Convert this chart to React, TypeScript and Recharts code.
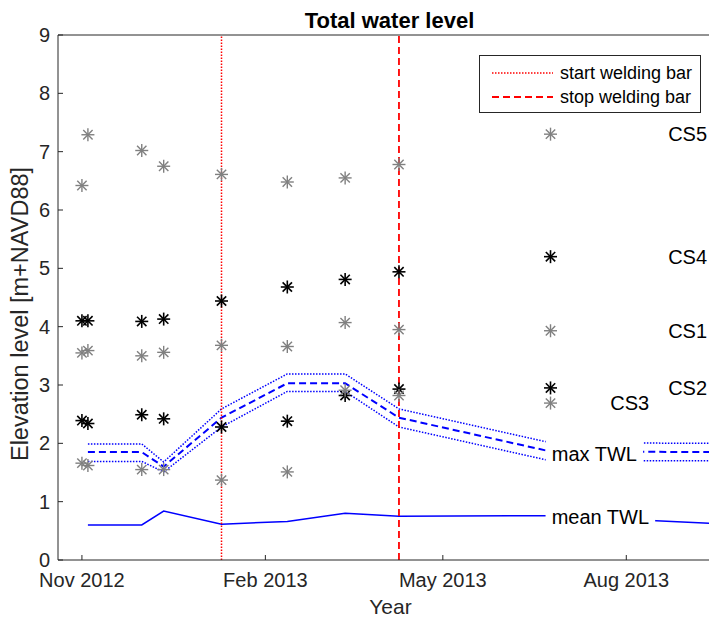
import { ComposedChart, Line, Scatter, XAxis, YAxis, ReferenceLine, ReferenceDot, Legend } from 'recharts'

const surveyDates = ['2012-11-01', '2012-11-04', '2012-12-01', '2012-12-12', '2013-01-10', '2013-02-12', '2013-03-13', '2013-04-09', '2013-06-24']
const cs5 = [6.42, 7.29, 7.02, 6.75, 6.61, 6.48, 6.55, 6.78, 7.30]
const cs4 = [4.10, 4.10, 4.09, 4.13, 4.44, 4.68, 4.81, 4.94, 5.20]
const cs1 = [3.55, 3.59, 3.50, 3.56, 3.68, 3.66, 4.07, 3.95, 3.93]
const cs2 = [2.39, 2.34, 2.49, 2.42, 2.28, 2.38, 2.82, 2.93, 2.95]
const cs3 = [1.66, 1.62, 1.55, 1.55, 1.37, 1.51, 2.91, 2.82, 2.69]

const twlDates = ['2012-11-04', '2012-12-01', '2012-12-12', '2013-01-10', '2013-02-12', '2013-03-13', '2013-04-09', '2013-06-24', '2013-09-17']
const meanTwl = [0.60, 0.60, 0.84, 0.615, 0.66, 0.80, 0.75, 0.76, 0.62]
const maxTwl = [1.85, 1.85, 1.60, 2.44, 3.03, 3.03, 2.44, 1.86, 1.85]
const maxTwlHigh = [1.99, 1.99, 1.68, 2.59, 3.19, 3.19, 2.59, 2.01, 2.00]
const maxTwlLow = [1.69, 1.69, 1.51, 2.28, 2.89, 2.89, 2.28, 1.70, 1.70]

const xRange = ['2012-10-20', '2013-09-17']
const xTicks = ['2012-11-01', '2013-02-01', '2013-05-01', '2013-08-01']
const xTickLabels = ['Nov 2012', 'Feb 2013', 'May 2013', 'Aug 2013']
const yTicks = [0, 1, 2, 3, 4, 5, 6, 7, 8, 9]

const weldStart = '2013-01-10'
const weldStop = '2013-04-09'

const csNames = ['CS5', 'CS4', 'CS1', 'CS2', 'CS3']
const csLabelDates = ['2013-08-22', '2013-08-22', '2013-08-22', '2013-08-22', '2013-07-24']
const twlLabelText = ['max TWL', 'mean TWL']
const twlLabelDates = ['2013-07-16', '2013-07-19']
const twlLabelValues = [1.82, 0.74]

const FONT = '"Liberation Sans", Arial, Helvetica, sans-serif'
const AXIS = '#262626'
const GRAY = '#808080'
const BLUE = '#0000ff'
const RED = '#ff0000'

const ts = (d: string) => Date.parse(d)
const pts = (dates: string[], vals: number[]) => dates.map((d, i) => ({ t: ts(d), v: vals[i] }))

const csSeries = [
  { name: 'CS5', vals: cs5, color: GRAY },
  { name: 'CS4', vals: cs4, color: '#000' },
  { name: 'CS1', vals: cs1, color: GRAY },
  { name: 'CS2', vals: cs2, color: '#000' },
  { name: 'CS3', vals: cs3, color: GRAY },
]

function star(color: string) {
  return (p: any) => {
    const { cx, cy } = p
    if (cx == null || cy == null) return <g />
    const r = 6.5
    const d = r * 0.72
    return (
      <g stroke={color} strokeWidth={color === GRAY ? 1.4 : 1.6}>
        <line x1={cx - r} y1={cy} x2={cx + r} y2={cy} />
        <line x1={cx} y1={cy - r} x2={cx} y2={cy + r} />
        <line x1={cx - d} y1={cy - d} x2={cx + d} y2={cy + d} />
        <line x1={cx - d} y1={cy + d} x2={cx + d} y2={cy - d} />
      </g>
    )
  }
}

function boxLabel(text: string) {
  return (props: any) => {
    const vb = props.viewBox || {}
    const cx = vb.x + (vb.width || 0) / 2
    const cy = vb.y + (vb.height || 0) / 2
    const w = text.length * 12.2 + 12
    return (
      <g>
        <rect x={cx - w / 2} y={cy - 13} width={w} height={26} fill="#fff" />
        <text x={cx} y={cy} textAnchor="middle" dominantBaseline="central" fontSize={20} fill="#000" fontFamily={FONT}>
          {text}
        </text>
      </g>
    )
  }
}

function sideLabel(text: string) {
  return (props: any) => {
    const vb = props.viewBox || {}
    return (
      <text x={vb.x} y={vb.y + (vb.height || 0) / 2} dominantBaseline="central" fontSize={20} fill="#000" fontFamily={FONT}>
        {text}
      </text>
    )
  }
}

function LegendBox() {
  const rows = [
    { label: 'start welding bar', dash: '1.5 1.5', w: 1.5 },
    { label: 'stop welding bar', dash: '7 4', w: 1.8 },
  ]
  return (
    <div style={{ width: 222, height: 58, boxSizing: 'border-box', border: `1px solid ${AXIS}`, background: '#fff', paddingTop: 5, fontFamily: FONT }}>
      {rows.map((r) => (
        <div key={r.label} style={{ display: 'flex', alignItems: 'center', height: 24 }}>
          <svg width={78} height={4} style={{ marginLeft: 12 }}>
            <line x1={0} y1={2} x2={61} y2={2} stroke={RED} strokeWidth={r.w} strokeDasharray={r.dash} />
          </svg>
          <span style={{ fontSize: 18, color: '#000', marginLeft: -10, lineHeight: '24px' }}>{r.label}</span>
        </div>
      ))}
    </div>
  )
}

export default function App() {
  const tickLabel = (v: number) => {
    const i = xTicks.findIndex((d) => ts(d) === v)
    return i >= 0 ? xTickLabels[i] : ''
  }
  return (
    <div style={{ position: 'relative', width: 709, height: 613, overflow: 'hidden', fontFamily: FONT, background: '#fff' }}>
      <ComposedChart width={720} height={613} margin={{ top: 26, right: 0, bottom: 0, left: 0 }}>
        <XAxis
          dataKey="t"
          type="number"
          domain={[ts(xRange[0]), ts(xRange[1])]}
          allowDataOverflow
          ticks={xTicks.map(ts)}
          interval={0}
          tickFormatter={tickLabel}
          height={61}
          tickSize={-5}
          tickMargin={18}
          stroke={AXIS}
          tick={{ fill: AXIS, fontSize: 20, fontFamily: FONT }}
        />
        <XAxis
          xAxisId="top"
          orientation="top"
          dataKey="t"
          type="number"
          domain={[ts(xRange[0]), ts(xRange[1])]}
          allowDataOverflow
          ticks={xTicks.map(ts)}
          interval={0}
          height={1}
          tickSize={-5}
          tick={false}
          stroke={AXIS}
        />
        <YAxis
          dataKey="v"
          type="number"
          domain={[0, 9]}
          allowDataOverflow
          ticks={yTicks}
          interval={0}
          width={50}
          tickSize={-5}
          tickMargin={13}
          stroke={AXIS}
          tick={{ fill: AXIS, fontSize: 20, fontFamily: FONT }}
        />
        <YAxis
          yAxisId="r"
          orientation="right"
          type="number"
          domain={[0, 9]}
          ticks={yTicks}
          interval={0}
          width={8}
          tickSize={-5}
          tick={false}
          stroke={AXIS}
        />
        <Legend
          layout="horizontal"
          verticalAlign="middle"
          align="center"
          wrapperStyle={{ position: 'absolute', left: 471, top: 47, width: 222, height: 58 }}
          content={() => <LegendBox />}
        />
        <Line data={pts(twlDates, maxTwlHigh)} dataKey="v" stroke={BLUE} strokeWidth={1.5} strokeDasharray="1.5 1.5" dot={false} activeDot={false} isAnimationActive={false} legendType="none" />
        <Line data={pts(twlDates, maxTwl)} dataKey="v" stroke={BLUE} strokeWidth={2} strokeDasharray="7 4" dot={false} activeDot={false} isAnimationActive={false} legendType="none" />
        <Line data={pts(twlDates, maxTwlLow)} dataKey="v" stroke={BLUE} strokeWidth={1.5} strokeDasharray="1.5 1.5" dot={false} activeDot={false} isAnimationActive={false} legendType="none" />
        <Line data={pts(twlDates, meanTwl)} dataKey="v" stroke={BLUE} strokeWidth={1.5} dot={false} activeDot={false} isAnimationActive={false} legendType="none" />
        {csSeries.map((s) => (
          <Scatter key={s.name} name={s.name} data={pts(surveyDates, s.vals)} dataKey="v" shape={star(s.color)} isAnimationActive={false} legendType="none" />
        ))}
        <ReferenceLine x={ts(weldStart)} stroke={RED} strokeWidth={1.5} strokeDasharray="1.5 1.5" />
        <ReferenceLine x={ts(weldStop)} stroke={RED} strokeWidth={1.8} strokeDasharray="7 4" />
        {csSeries.map((s, i) => (
          <ReferenceDot key={s.name} x={ts(csLabelDates[i])} y={s.vals[s.vals.length - 1]} r={0} fill="none" stroke="none" label={sideLabel(csNames[i])} />
        ))}
        {twlLabelText.map((t, i) => (
          <ReferenceDot key={t} x={ts(twlLabelDates[i])} y={twlLabelValues[i]} r={0} fill="none" stroke="none" label={boxLabel(t)} />
        ))}
      </ComposedChart>
      <svg width={709} height={613} style={{ position: 'absolute', left: 0, top: 0, pointerEvents: 'none' }}>
        <text x={381.5} y={20} textAnchor="middle" fontSize={22} fontWeight="bold" fill="#000" fontFamily={FONT}>
          Total water level
        </text>
        <text x={382.5} y={606} textAnchor="middle" fontSize={21} fill={AXIS} fontFamily={FONT}>
          Year
        </text>
        <text transform="translate(20, 306) rotate(-90)" textAnchor="middle" fontSize={23.5} fill={AXIS} fontFamily={FONT}>
          Elevation level [m+NAVD88]
        </text>
      </svg>
    </div>
  )
}
